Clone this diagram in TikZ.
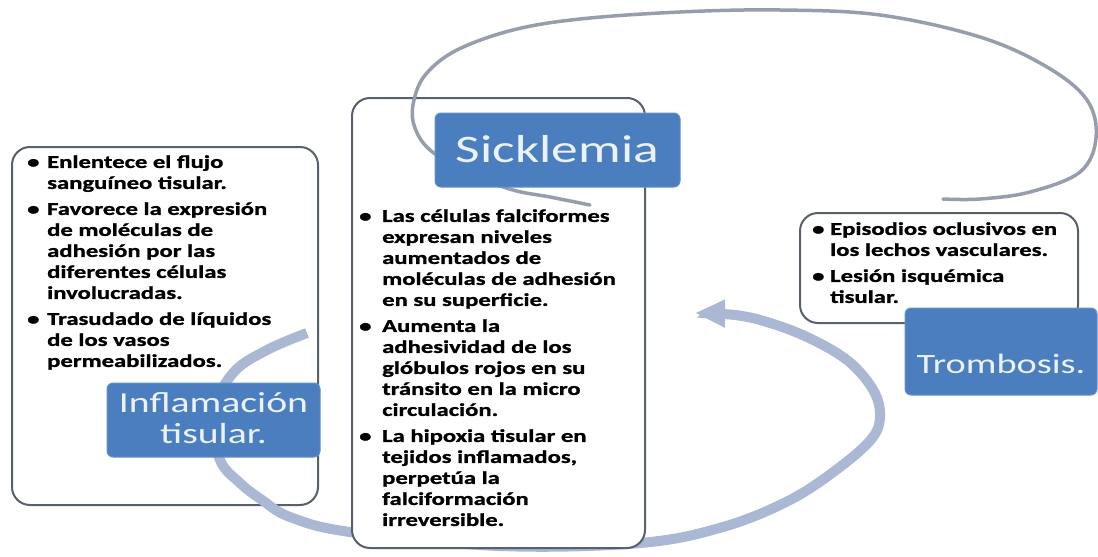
\documentclass[tikz,border=0pt]{standalone}
\usepackage{fontspec}
\setmainfont{Carlito}
\newfontfamily\bodyfont[FakeStretch=1.37]{Carlito}
\newfontfamily\heavyfont[FakeStretch=1.37, FakeBold=1.2]{Carlito Bold}
\usetikzlibrary{arrows.meta}
\definecolor{boxborder}{RGB}{88,96,108}
\definecolor{labelblue}{RGB}{74,126,190}
\definecolor{labeltext}{RGB}{236,242,250}
\definecolor{arcblue}{RGB}{170,184,212}
\definecolor{arcgrey}{RGB}{150,158,172}
\begin{document}
\begin{tikzpicture}[x=1pt,y=-1pt,
  textbox/.style={draw=boxborder, line width=2pt, fill=white, rounded corners=18pt, inner sep=0pt},
  bluelabel/.style={fill=labelblue, draw=labelblue!85!white, line width=1pt, rounded corners=6pt, text=labeltext, inner sep=0pt},
  bodytext/.style={anchor=north west, inner sep=0pt, font=\heavyfont\fontsize{18}{21}\selectfont, text=black},
  cyclearrow/.style={draw=arcblue, line width=10pt},
  thinline/.style={draw=arcgrey, line width=3.5pt, line cap=round}]
\fill[white] (0,0) rectangle (1098,557);
\useasboundingbox (0,0) rectangle (1098,557);

% boxes
\node[textbox, minimum width=306pt, minimum height=358pt] (lbox) at (165,326) {};

\coordinate (la) at (307,333);
\coordinate (lb) at (695,313);
\draw[cyclearrow, -{Triangle[length=30pt,width=26pt]}] plot[smooth, tension=0.6] coordinates {(la) (267,350) (233,373) (212,415) (220,460) (240,483) (262,500) (290,517) (350,532) (500,546) (640,543) (723,527) (790,500) (840,467) (873,437) (880,413) (872,388) (847,360) (807,337) (767,322) (735,315) (lb)};

\node[textbox, minimum width=293pt, minimum height=450pt] (cbox) at (498.5,323) {};
\node[textbox, minimum width=278pt, minimum height=110pt] (rbox) at (939,268) {};

\coordinate (ta) at (590,205);
\coordinate (tb) at (943,199);
\draw[thinline] plot[smooth, tension=0.6] coordinates {(ta) (550,197) (513,190) (470,174) (430,150) (414,125) (414,100) (426,74) (457,50) (513,30) (580,19) (680,12) (780,10) (880,15) (980,37) (1047,67) (1087,100) (1096,138) (1080,172) (1030,192) (980,199) (tb)};

% labels
\node[bluelabel, minimum width=245pt, text height=49pt, text depth=25pt, font=\bodyfont\fontsize{39}{40}\selectfont] (sick) at (557.5,150) {Sicklemia};
\node[bluelabel, minimum width=213pt, text height=29pt, text depth=45pt, font=\bodyfont\fontsize{29}{31}\selectfont] (infl) at (213.5,420) {\begin{tabular}[t]{@{}c@{}}Inflamación\\tisular.\end{tabular}};
\node[bluelabel, minimum width=192pt, text height=65pt, text depth=22pt, font=\bodyfont\fontsize{28}{30}\selectfont] (trom) at (1001,351.5) {Trombosis.};

% texts
\node[bodytext] (ltext) at (27,153) {\begin{tabular}{@{}p{20pt}@{}l@{}}
\textbullet & Enlentece el flujo\\
 & sanguíneo tisular.\\[5pt]
\textbullet & Favorece la expresión\\
 & de moléculas de\\
 & adhesión por las\\
 & diferentes células\\
 & involucradas.\\[5pt]
\textbullet & Trasudado de líquidos\\
 & de los vasos\\
 & permeabilizados.
\end{tabular}};

\node[bodytext] (ctext) at (359,207) {\begin{tabular}{@{}p{23pt}@{}l@{}}
\textbullet & Las células falciformes\\
 & expresan niveles\\
 & aumentados de\\
 & moléculas de adhesión\\
 & en su superficie.\\[5pt]
\textbullet & Aumenta la\\
 & adhesividad de los\\
 & glóbulos rojos en su\\
 & tránsito en la micro\\
 & circulación.\\[5pt]
\textbullet & La hipoxia tisular en\\
 & tejidos inflamados,\\
 & perpetúa la\\
 & falciformación\\
 & irreversible.
\end{tabular}};

\node[bodytext] (rtext) at (812,220) {\begin{tabular}{@{}p{18pt}@{}l@{}}
\textbullet & Episodios oclusivos en\\
 & los lechos vasculares.\\[5pt]
\textbullet & Lesión isquémica\\
 & tisular.
\end{tabular}};
\end{tikzpicture}
\end{document}
